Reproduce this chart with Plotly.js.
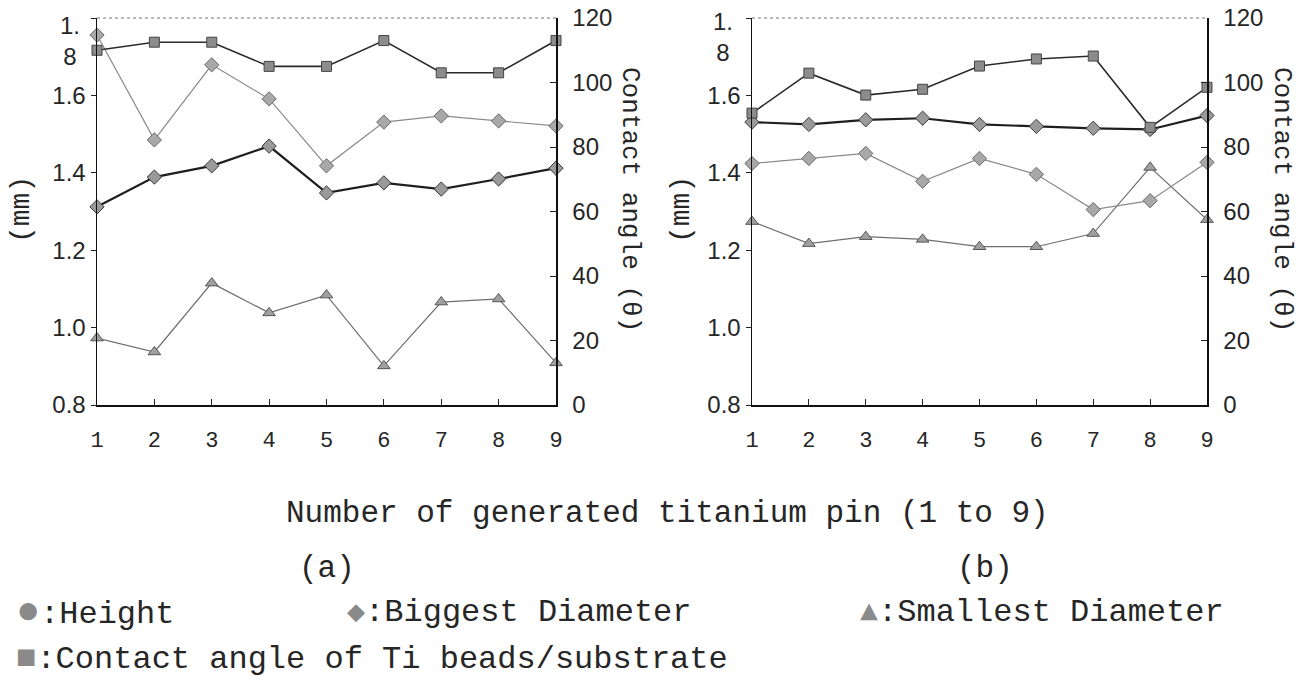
<!DOCTYPE html>
<html>
<head>
<meta charset="utf-8">
<script src="https://cdn.plot.ly/plotly-3.0.1.min.js"></script>
<style>html,body{margin:0;padding:0;background:#fff;}#chart{width:1316px;height:686px;}</style>
</head>
<body>
<div id="chart"></div>
<script>
// Data
const pins = [1, 2, 3, 4, 5, 6, 7, 8, 9];
const pinLabels = ['1', '2', '3', '4', '5', '6', '7', '8', '9'];

// (a)
const heightA   = [1.312, 1.389, 1.418, 1.469, 1.348, 1.374, 1.358, 1.384, 1.412];
const biggestA  = [1.756, 1.485, 1.679, 1.591, 1.418, 1.531, 1.547, 1.534, 1.521];
const smallestA = [0.973, 0.937, 1.115, 1.038, 1.084, 0.901, 1.066, 1.074, 0.909];
const contactA  = [110, 112.5, 112.5, 105, 105, 113, 103, 103, 113];

// (b)
const heightB   = [1.531, 1.525, 1.537, 1.541, 1.525, 1.520, 1.515, 1.512, 1.548];
const biggestB  = [1.424, 1.437, 1.450, 1.378, 1.437, 1.396, 1.305, 1.328, 1.427];
const smallestB = [1.274, 1.217, 1.235, 1.228, 1.209, 1.209, 1.243, 1.414, 1.279];
const contactB  = [90.5, 102.9, 96.1, 97.9, 105.1, 107.3, 108.2, 86.1, 98.5];

const mmTickVals = [0.8, 1.0, 1.2, 1.4, 1.6, 1.8];
const mmTickText = ['0.8', '1.0', '1.2', '1.4', '1.6', ''];
const topMmLabel = '1.<br>8';
const angleTickVals = [0, 20, 40, 60, 80, 100, 120];

const xTitle = 'Number of generated titanium pin (1 to 9)';
const leftTitle = '(mm)';
const rightTitle = 'Contact angle (θ)';
const panelLabels = ['(a)', '(b)'];
const legendItems = [
  {sym: '●', text: ':Height'},
  {sym: '◆', text: ':Biggest Diameter'},
  {sym: '▲', text: ':Smallest Diameter'},
  {sym: '■', text: ':Contact angle of Ti beads/substrate'}
];

const W = 1316, H = 686;
const mono = 'Liberation Mono, DejaVu Sans Mono, monospace';
const sans = 'Liberation Sans, Arial, sans-serif';
const ink = '#262626';

const styles = {
  height:   {line: {color: '#1e1e1e', width: 2.2}, marker: {symbol: 'diamond', size: 11, color: '#9a9a9a', line: {color: '#3a3a3a', width: 1}}},
  biggest:  {line: {color: '#8a8a8a', width: 1.2}, marker: {symbol: 'diamond', size: 11, color: '#a8a8a8', line: {color: '#6a6a6a', width: 1}}},
  smallest: {line: {color: '#6e6e6e', width: 1.2}, marker: {symbol: 'triangle-up', size: 11, color: '#a0a0a0', line: {color: '#555', width: 1}}},
  contact:  {line: {color: '#2a2a2a', width: 1.6}, marker: {symbol: 'square', size: 10, color: '#8c8c8c', line: {color: '#444', width: 1}}}
};

function tr(y, s, xa, ya, name) {
  return {x: pins, y: y, xaxis: xa, yaxis: ya, mode: 'lines+markers', name: name,
          line: s.line, marker: s.marker, showlegend: false, cliponaxis: false};
}

const data = [
  tr(smallestA, styles.smallest, 'x', 'y', 'Smallest Diameter'),
  tr(biggestA, styles.biggest, 'x', 'y', 'Biggest Diameter'),
  tr(heightA, styles.height, 'x', 'y', 'Height'),
  tr(contactA, styles.contact, 'x', 'y2', 'Contact angle'),
  tr(smallestB, styles.smallest, 'x2', 'y3', 'Smallest Diameter'),
  tr(biggestB, styles.biggest, 'x2', 'y3', 'Biggest Diameter'),
  tr(heightB, styles.height, 'x2', 'y3', 'Height'),
  tr(contactB, styles.contact, 'x2', 'y4', 'Contact angle')
];

const px = v => v / W;
const py = v => 1 - v / H;

const xBase = {
  range: [1, 9], tickvals: pins, ticktext: pinLabels, ticks: 'inside', ticklen: 6, tickcolor: '#222',
  showline: true, linecolor: '#111', linewidth: 1.5, showgrid: false, zeroline: false,
  tickfont: {family: mono, size: 22, color: ink}, ticklabelstandoff: 14, fixedrange: true
};
const yLeftBase = {
  range: [0.8, 1.8], tickvals: mmTickVals, ticktext: mmTickText, ticks: 'outside', ticklen: 5, tickcolor: '#222',
  showline: true, linecolor: '#111', linewidth: 1.5, showgrid: false, zeroline: false,
  tickfont: {family: sans, size: 24, color: ink}, ticklabelstandoff: 0
};
const yRightBase = {
  range: [0, 120], tickvals: angleTickVals, ticks: 'inside', ticklen: 6, tickcolor: '#222', side: 'right',
  showline: true, linecolor: '#111', linewidth: 1.5, showgrid: false, zeroline: false,
  tickfont: {family: sans, size: 24, color: ink}, ticklabelstandoff: 10
};

const yDom = [py(405), py(18)];
const layout = {
  width: W, height: H,
  margin: {l: 0, r: 0, t: 0, b: 0},
  paper_bgcolor: '#fff', plot_bgcolor: 'rgba(0,0,0,0)',
  showlegend: false,
  xaxis: Object.assign({}, xBase, {domain: [px(97), px(556)], anchor: 'y'}),
  xaxis2: Object.assign({}, xBase, {domain: [px(752), px(1207)], anchor: 'y3'}),
  yaxis: Object.assign({}, yLeftBase, {domain: yDom, anchor: 'x'}),
  yaxis2: Object.assign({}, yRightBase, {overlaying: 'y', anchor: 'x'}),
  yaxis3: Object.assign({}, yLeftBase, {domain: yDom, anchor: 'x2'}),
  yaxis4: Object.assign({}, yRightBase, {overlaying: 'y3', anchor: 'x2'}),
  shapes: [
    {type: 'line', xref: 'x domain', yref: 'y domain', x0: 0, x1: 1, y0: 1, y1: 1, line: {color: '#777', width: 1, dash: 'dot'}},
    {type: 'line', xref: 'x2 domain', yref: 'y3 domain', x0: 0, x1: 1, y0: 1, y1: 1, line: {color: '#777', width: 1, dash: 'dot'}}
  ],
  annotations: []
};

const ann = layout.annotations;
// "1. / 8" top tick label drawn beside the axis top
[[82, 10], [735, 6]].forEach(p => ann.push({xref: 'paper', yref: 'paper', x: px(p[0]), y: py(p[1]), text: topMmLabel,
  showarrow: false, align: 'center', font: {family: sans, size: 24, color: ink}, xanchor: 'right', yanchor: 'top'}));
// axis titles
[21, 681].forEach(x => ann.push({xref: 'paper', yref: 'paper', x: px(x), y: py(210), text: leftTitle, showarrow: false,
  textangle: -90, font: {family: mono, size: 28, color: ink}, xanchor: 'center', yanchor: 'middle'}));
[630, 1282].forEach(x => ann.push({xref: 'paper', yref: 'paper', x: px(x), y: py(199), text: rightTitle, showarrow: false,
  textangle: 90, font: {family: mono, size: 26, color: ink}, xanchor: 'center', yanchor: 'middle'}));
ann.push({xref: 'paper', yref: 'paper', x: px(667), y: py(513), text: xTitle, showarrow: false,
  font: {family: mono, size: 31, color: ink}, xanchor: 'center', yanchor: 'middle'});
ann.push({xref: 'paper', yref: 'paper', x: px(327), y: py(568), text: panelLabels[0], showarrow: false,
  font: {family: mono, size: 31, color: ink}, xanchor: 'center', yanchor: 'middle'});
ann.push({xref: 'paper', yref: 'paper', x: px(985), y: py(568), text: panelLabels[1], showarrow: false,
  font: {family: mono, size: 31, color: ink}, xanchor: 'center', yanchor: 'middle'});
// legend rows
const legPos = [[14, 612], [345, 612], [858, 612], [14, 659]];
const symSize = [40, 30, 30, 34];
legendItems.forEach((it, i) => ann.push({xref: 'paper', yref: 'paper', x: px(legPos[i][0]), y: py(legPos[i][1]),
  text: '<span style="color:#8a8a8a;font-size:' + symSize[i] + 'px">' + it.sym + '</span>' + it.text, showarrow: false,
  font: {family: mono, size: 32, color: ink}, xanchor: 'left', yanchor: 'middle'}));

Plotly.newPlot('chart', data, layout, {staticPlot: true, displayModeBar: false});
</script>
</body>
</html>
